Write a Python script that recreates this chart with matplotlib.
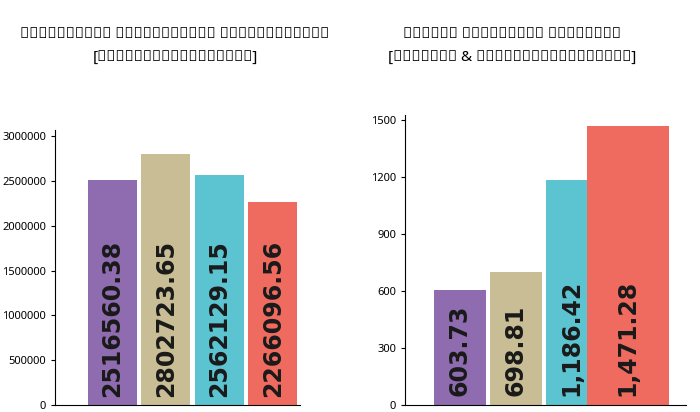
import matplotlib.pyplot as plt
from matplotlib.ticker import FuncFormatter

left_title = ["எலும்புகள் நீக்கப்பட்ட மாட்டிறைச்சி", "[உறையவைக்கப்பட்டவை]"]
right_title = ["மாட்டு இறைச்சிக் கழிவுகள்", "[ஃப்ரெஷ் & குளிரூட்டப்பட்டவை]"]
left_values = [2516560.38, 2802723.65, 2562129.15, 2266096.56]
left_labels = ["2516560.38", "2802723.65", "2562129.15", "2266096.56"]
right_values = [603.73, 698.81, 1186.42, 1471.28]
right_labels = ["603.73", "698.81", "1,186.42", "1,471.28"]
colors = ["#8f6bb0", "#c9bd95", "#5cc3d1", "#ef6b5f"]

plt.rcParams["font.family"] = ["Noto Sans", "DejaVu Sans"]
fig = plt.figure(figsize=(7, 4.12), dpi=100)
W, H = 700, 412


def panel(rect, values, labels, ticks, ymax, xlim, widths):
    ax = fig.add_axes(rect)
    x = list(range(len(values)))
    ax.bar(x, values, width=widths, color=colors)
    for xi, lab in zip(x, labels):
        ax.text(xi, ymax * 0.03, lab, rotation=90, ha="center", va="bottom",
                fontsize=17, fontweight="bold",
                family=["Liberation Sans Narrow", "DejaVu Sans"],
                color="#1a1a1a")
    ax.set_xlim(*xlim)
    ax.set_ylim(0, ymax)
    ax.set_yticks(ticks)
    ax.yaxis.set_major_formatter(FuncFormatter(lambda v, p: f"{v:.0f}"))
    ax.set_xticks([])
    ax.tick_params(axis="y", labelsize=8, length=3)
    for s in ["top", "right"]:
        ax.spines[s].set_visible(False)
    return ax


panel([55 / W, 7 / H, 245 / W, 275 / H], left_values, left_labels,
      [0, 500000, 1000000, 1500000, 2000000, 2500000, 3000000], 3070000,
      (-1.07, 3.51), 0.92)
panel([405 / W, 7 / H, 281 / W, 290 / H], right_values, right_labels,
      [0, 300, 600, 900, 1200, 1500], 1528, (-0.98, 4.04),
      [0.92, 0.92, 0.92, 1.47])

for xc, lines in [(175, left_title), (512, right_title)]:
    fig.text(xc / W, 1 - 35 / H, lines[0], ha="center", va="center",
             fontsize=11, fontweight="bold")
    fig.text(xc / W, 1 - 58 / H, lines[1], ha="center", va="center",
             fontsize=11, fontweight="bold")

fig.savefig("out.png", dpi=100)
